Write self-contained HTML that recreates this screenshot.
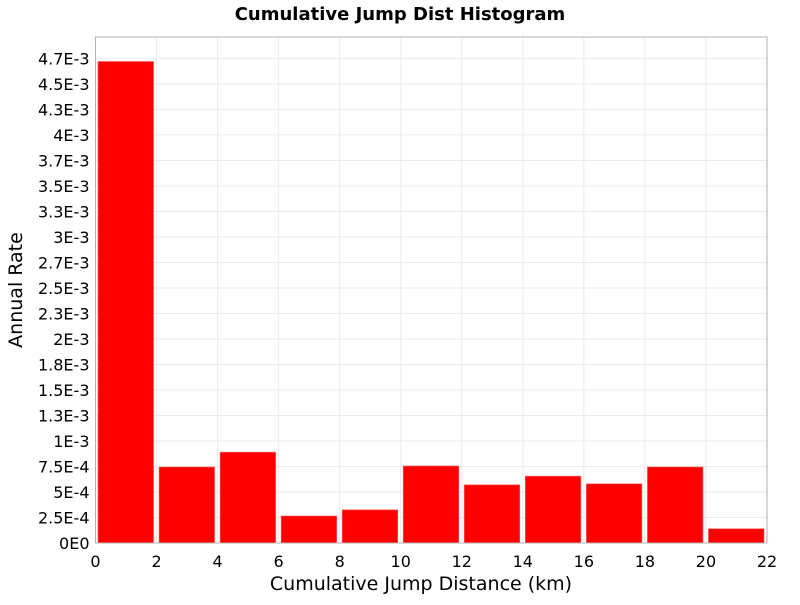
<!DOCTYPE html>
<html><head><meta charset="utf-8"><style>
body{margin:0;background:#fff;}
svg text{font-family:"DejaVu Sans","Liberation Sans",sans-serif;fill:#000;}
</style></head><body>
<svg id="chart" width="800" height="600" xmlns="http://www.w3.org/2000/svg">
<text x="400" y="20" text-anchor="middle" font-size="18" font-weight="bold">Cumulative Jump Dist Histogram</text>
<g id="grid"></g>
<g id="bars"></g>
<rect x="95.5" y="37" width="671.5" height="506" fill="none" stroke="#b0b0b0"/>
<g id="yticks"></g>
<g id="xticks"></g>
<text x="421" y="590" text-anchor="middle" font-size="19">Cumulative Jump Distance (km)</text>
<text transform="translate(22,290) rotate(-90)" text-anchor="middle" font-size="19">Annual Rate</text>
</svg>
<script>
const binStarts=[0,2,4,6,8,10,12,14,16,18,20];
const binWidth=2;
const rates=[4.72e-3,7.45e-4,8.9e-4,2.65e-4,3.25e-4,7.55e-4,5.7e-4,6.55e-4,5.8e-4,7.45e-4,1.4e-4];
const yTickValues=[0,2.5e-4,5e-4,7.5e-4,1e-3,1.25e-3,1.5e-3,1.75e-3,2e-3,2.25e-3,2.5e-3,2.75e-3,3e-3,3.25e-3,3.5e-3,3.75e-3,4e-3,4.25e-3,4.5e-3,4.75e-3];
const yTickLabels=["0E0","2.5E-4","5E-4","7.5E-4","1E-3","1.3E-3","1.5E-3","1.8E-3","2E-3","2.3E-3","2.5E-3","2.7E-3","3E-3","3.3E-3","3.5E-3","3.7E-3","4E-3","4.3E-3","4.5E-3","4.7E-3"];
const xTickValues=[0,2,4,6,8,10,12,14,16,18,20,22];
const X0=95.5,X1=767,Y0=543,Y1=37,XMAX=22,YMAX=4.96e-3;
const xs=v=>X0+(X1-X0)*v/XMAX;
const ys=v=>Y0-(Y0-Y1)*v/YMAX;
const NS="http://www.w3.org/2000/svg";
function mk(tag,attrs,parent){const e=document.createElementNS(NS,tag);for(const k in attrs)e.setAttribute(k,attrs[k]);document.getElementById(parent).appendChild(e);return e;}
yTickValues.forEach((v,i)=>{
  const l=mk('line',{x1:X0,x2:X1,y1:ys(v),y2:ys(v),stroke:'#ebebeb'},'grid');
  
  
  const t=mk('text',{x:X0-6,y:ys(v)+6,'text-anchor':'end','font-size':'16'},'yticks');
  t.textContent=yTickLabels[i];
  
  
});
xTickValues.forEach(v=>{
  const l=mk('line',{x1:xs(v),x2:xs(v),y1:Y1,y2:Y0,stroke:'#ebebeb'},'grid');
  
  
  const t=mk('text',{x:xs(v),y:Y0+24,'text-anchor':'middle','font-size':'16'},'xticks');
  t.textContent=String(v);
  
  
});
binStarts.forEach((s,i)=>{
  const a=xs(s)+2.5,b=xs(s+binWidth)-3;
  const r=mk('rect',{x:a,y:ys(rates[i]),width:b-a,height:Y0-ys(rates[i]),fill:'#ff0000',stroke:'#ff6060','stroke-width':'0.6'},'bars');
  
  
});
</script>
</body></html>
